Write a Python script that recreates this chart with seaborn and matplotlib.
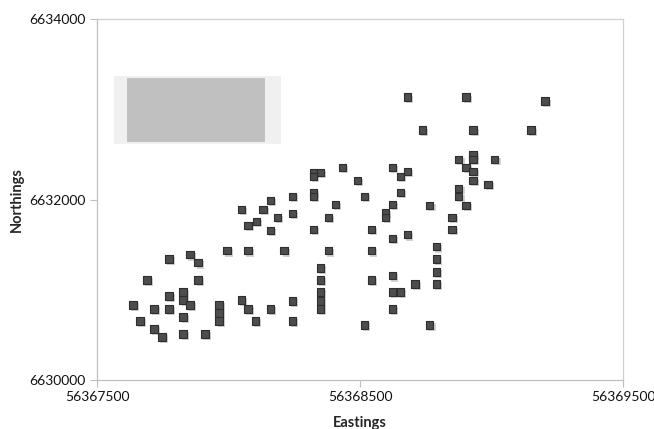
import matplotlib
matplotlib.use("Agg")
import matplotlib.pyplot as plt
import matplotlib.patheffects as pe
from matplotlib.patches import Rectangle
import pandas as pd
import seaborn as sns

# sample locations
eastings = [
    56367637, 56367664, 56367690, 56367717, 56367717, 56367748, 56367774, 56367774,
    56367774, 56367828, 56367828, 56367828, 56367828, 56367854, 56367854, 56367885,
    56367885, 56367911, 56367965, 56367965, 56367965, 56367995, 56368049, 56368075,
    56368102, 56368049, 56368075, 56368106, 56368075, 56368132, 56368159, 56368159,
    56368159, 56368186, 56368243, 56368243, 56368212, 56368243, 56368243, 56368323,
    56368323, 56368350, 56368323, 56368323, 56368323, 56368350, 56368350, 56368350,
    56368350, 56368350, 56368380, 56368380, 56368407, 56368433, 56368490, 56368517,
    56368517, 56368544, 56368544, 56368544, 56368597, 56368597, 56368624, 56368624,
    56368624, 56368624, 56368624, 56368624, 56368654, 56368654, 56368654, 56368681,
    56368681, 56368681, 56368708, 56368738, 56368765, 56368765, 56368791, 56368791,
    56368791, 56368791, 56368849, 56368849, 56368875, 56368875, 56368875, 56368902,
    56368902, 56368902, 56368929, 56368929, 56368929, 56368929, 56368929, 56368986,
    56369012, 56369150, 56369203,
]
northings = [
    6630833, 6630656, 6631111, 6630789, 6630567, 6630478, 6631344, 6630933,
    6630789, 6630978, 6630889, 6630700, 6630511, 6631389, 6630833, 6631300,
    6631111, 6630511, 6630833, 6630744, 6630656, 6631433, 6630889, 6630789,
    6630656, 6631889, 6631711, 6631756, 6631433, 6631889, 6631989, 6631656,
    6630789, 6631800, 6632033, 6631844, 6631433, 6630878, 6630656, 6632300,
    6632256, 6632300, 6632078, 6632033, 6631667, 6631244, 6631111, 6630978,
    6630878, 6630789, 6631800, 6631433, 6631944, 6632356, 6632211, 6632033,
    6630611, 6631667, 6631433, 6631111, 6631856, 6631800, 6632356, 6631944,
    6631567, 6631156, 6630978, 6630789, 6632256, 6632078, 6630978, 6633133,
    6632311, 6631611, 6631067, 6632767, 6631933, 6630611, 6631478, 6631344,
    6631200, 6631067, 6631800, 6631667, 6632444, 6632122, 6632033, 6633133,
    6632356, 6631933, 6632767, 6632500, 6632444, 6632311, 6632211, 6632167,
    6632444, 6632767, 6633089,
]
x_ticks = [56367500, 56368500, 56369500]
y_ticks = [6630000, 6632000, 6634000]

df = pd.DataFrame({"Eastings": eastings, "Northings": northings})

sns.set_style("white")
plt.rcParams["font.family"] = ["Lato", "DejaVu Sans"]

fig = plt.figure(figsize=(6.54, 4.29), dpi=100)
ax = fig.add_axes([0.1483, 0.1142, 0.8043, 0.8415])

sns.scatterplot(data=df, x="Eastings", y="Northings", marker="s", s=30,
                color="#4d4d4d", edgecolor="#2e2e2e", linewidth=0.8, ax=ax)
ax.collections[0].set_path_effects([
    pe.SimplePatchShadow(offset=(1.5, -1.5), shadow_rgbFace="#909090", alpha=0.4),
    pe.Normal(),
])

ax.set_xlim(x_ticks[0], x_ticks[-1])
ax.set_ylim(y_ticks[0], y_ticks[-1])
ax.set_xticks(x_ticks)
ax.set_yticks(y_ticks)
ax.set_xticklabels([str(v) for v in x_ticks], fontsize=10)
ax.set_yticklabels([str(v) for v in y_ticks], fontsize=10)
ax.tick_params(axis="both", direction="out", length=5, width=0.8, color="#bfbfbf",
               pad=3, labelcolor="#111111")
ax.tick_params(axis="both", which="both", bottom=True, left=True)
for sp in ax.spines.values():
    sp.set_color("#d0d0d0")
    sp.set_linewidth(0.9)
ax.spines["left"].set_color("#bfbfbf")
ax.spines["bottom"].set_color("#bfbfbf")

ax.set_xlabel("Eastings", fontsize=10.5, fontweight="bold", labelpad=9)
ax.set_ylabel("Northings", fontsize=10.5, fontweight="bold", labelpad=4)

# empty legend box in the upper left
ax.add_patch(Rectangle((0.032, 0.654), 0.318, 0.188, transform=ax.transAxes,
                       facecolor="#f0f0f0", edgecolor="none", zorder=1))
ax.add_patch(Rectangle((0.058, 0.662), 0.26, 0.175, transform=ax.transAxes,
                       facecolor="#c0c0c0", edgecolor="#b8b8b8", linewidth=0.5, zorder=1))

fig.savefig("out.png", dpi=100)
